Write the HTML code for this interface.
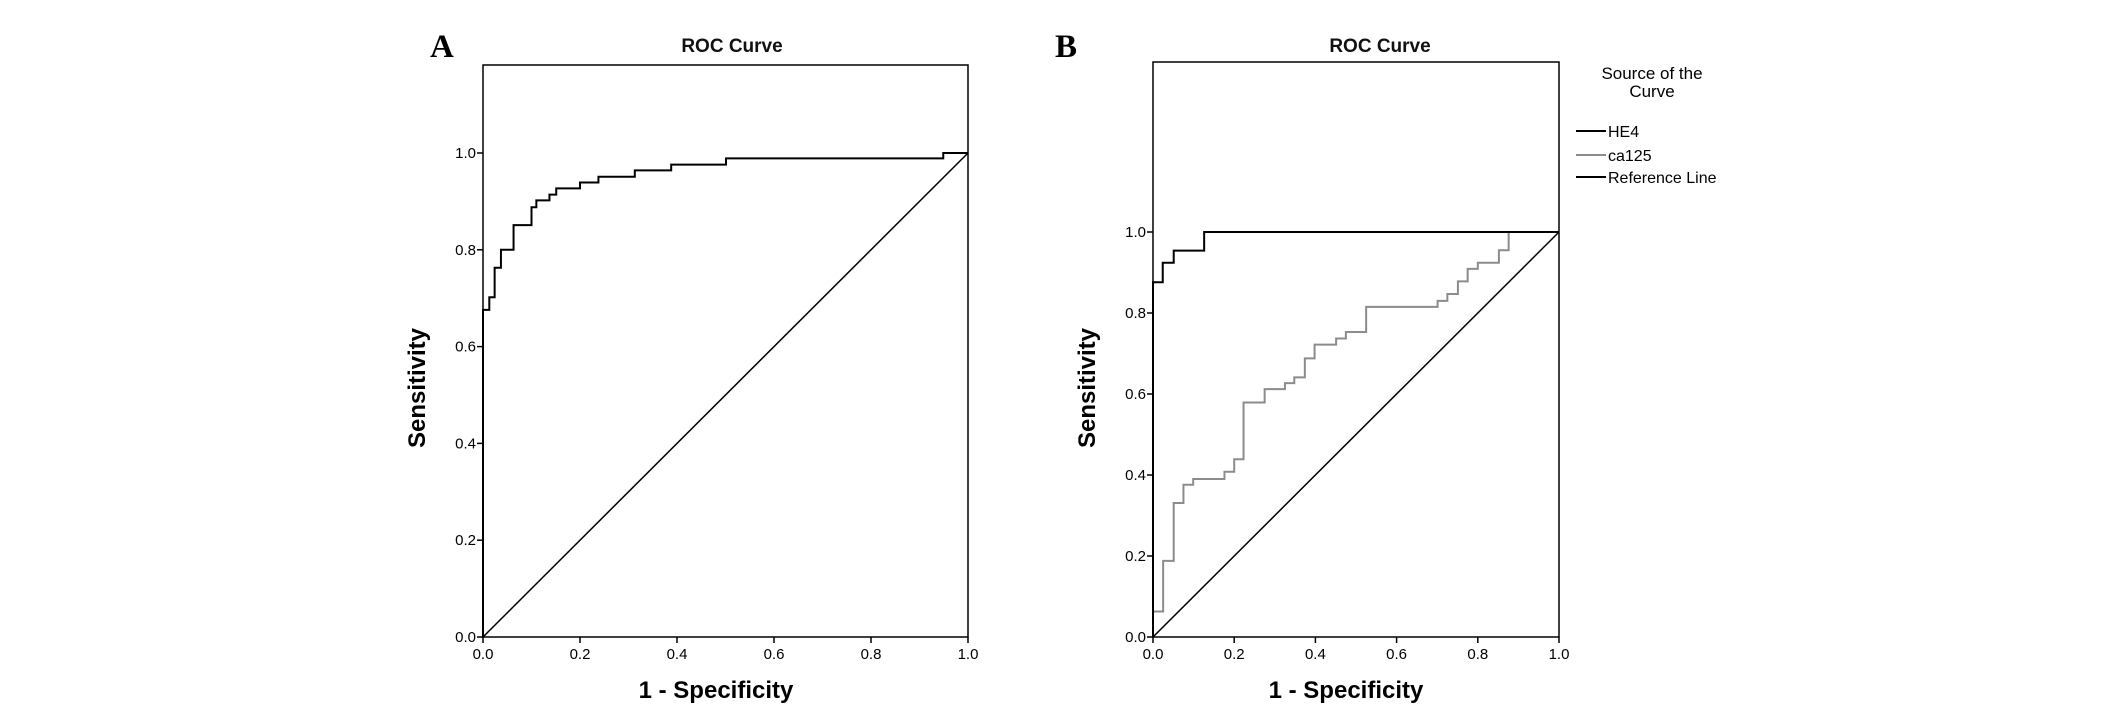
<!DOCTYPE html>
<html><head><meta charset="utf-8"><style>
html,body{margin:0;padding:0;background:#fff;}
svg{display:block;font-family:"Liberation Sans",Arial,sans-serif;}
</style></head><body>
<svg id="svg" width="2126" height="726" viewBox="0 0 2126 726" xmlns="http://www.w3.org/2000/svg">
<g id="gA"></g>
<g id="gB"></g>
</svg>
<script>
const ticks = [0, 0.2, 0.4, 0.6, 0.8, 1.0];
const tickLabels = ["0.0","0.2","0.4","0.6","0.8","1.0"];
const aFpr = [0,0.013,0.024,0.037,0.063,0.100,0.110,0.137,0.151,0.200,0.238,0.313,0.388,0.501,0.949];
const aTpr = [0.676,0.702,0.763,0.80,0.851,0.888,0.902,0.914,0.927,0.939,0.951,0.964,0.976,0.989,1.0];
const he4Fpr = [0,0.024,0.051,0.126];
const he4Tpr = [0.876,0.924,0.954,1.0];
const caFpr = [0,0.025,0.051,0.075,0.099,0.176,0.200,0.223,0.275,0.325,0.348,0.374,0.398,0.451,0.475,0.525,0.701,0.725,0.751,0.775,0.800,0.852,0.876];
const caTpr = [0.063,0.188,0.331,0.376,0.390,0.408,0.439,0.579,0.612,0.627,0.641,0.688,0.722,0.737,0.753,0.815,0.830,0.847,0.878,0.909,0.924,0.955,1.0];
const NS="http://www.w3.org/2000/svg";
function mk(parent,tag,attrs,txt){const e=document.createElementNS(NS,tag);for(const k in attrs)e.setAttribute(k,attrs[k]);if(txt!==undefined)e.textContent=txt;parent.appendChild(e);return e;}
function panel(g,P,letter,letterX){
  const sx=v=>P.x0+v*(P.x1-P.x0), sy=v=>P.y0-v*(P.y0-P.y1);
  let t=mk(g,'text',{x:letterX,y:57,'font-family':'"Liberation Serif",serif','font-weight':'bold','font-size':'33'},letter);
  
  
  t=mk(g,'text',{x:P.titleX,y:52,'text-anchor':'middle','font-size':'19','font-weight':'bold','fill':'#111'},'ROC Curve');
  
  
  const fr=mk(g,'rect',{x:P.x0,y:P.top,width:P.x1-P.x0,height:P.y0-P.top,fill:'none',stroke:'#000','stroke-width':'1.5'});
  
  
  ticks.forEach((v,i)=>{
    let l=mk(g,'line',{x1:P.x0-6,x2:P.x0,y1:sy(v),y2:sy(v),stroke:'#000','stroke-width':'1.5'});
    
    
    let tx=mk(g,'text',{x:P.x0-7,y:sy(v)+5,'text-anchor':'end','font-size':'15'},tickLabels[i]);
    
    
    l=mk(g,'line',{x1:sx(v),x2:sx(v),y1:P.y0,y2:P.y0+6,stroke:'#000','stroke-width':'1.5'});
    
    
    tx=mk(g,'text',{x:sx(v),y:P.y0+22,'text-anchor':'middle','font-size':'15'},tickLabels[i]);
    
    
  });
  t=mk(g,'text',{x:P.xTitleX,y:698,'text-anchor':'middle','font-size':'24','font-weight':'bold'},'1 - Specificity');
  
  
  const yc=388, xc=P.x0-66;
  t=mk(g,'text',{x:xc,y:yc,'text-anchor':'middle','font-size':'24','font-weight':'bold',transform:`rotate(-90 ${xc} ${yc})`,dy:'8'},'Sensitivity');
  
  
  const ref=mk(g,'line',{x1:sx(0),y1:sy(0),x2:sx(1),y2:sy(1),stroke:'#000','stroke-width':'1.5'});
  
  
  return {sx,sy};
}
function step(g,s,xs,ys,color,name){
  let d=`M${s.sx(0)},${s.sy(0)}`;
  for(let i=0;i<xs.length;i++){d+=` H${s.sx(xs[i])} V${s.sy(ys[i])}`;}
  d+=` H${s.sx(1)}`;
  const p=mk(g,'path',{d:d,fill:'none',stroke:color,'stroke-width':'2'});
  
  
}
const gA=document.getElementById('gA'), gB=document.getElementById('gB');
const PA={x0:483,x1:968,y0:637,y1:153,top:65,titleX:732,xTitleX:716};
const sA=panel(gA,PA,'A',430);
step(gA,sA,aFpr,aTpr,'#000','roc-curve');
const PB={x0:1153,x1:1559,y0:637,y1:232,top:62,titleX:1380,xTitleX:1346};
const sB=panel(gB,PB,'B',1055);
step(gB,sB,caFpr,caTpr,'#8c8c8c','ca125-curve');
step(gB,sB,he4Fpr,he4Tpr,'#000','he4-curve');
const lg=mk(gB,'g',{});


let t=mk(lg,'text',{x:1652,y:79,'text-anchor':'middle','font-size':'17'},'Source of the');


t=mk(lg,'text',{x:1652,y:97,'text-anchor':'middle','font-size':'17'},'Curve');


const legNames=['HE4','ca125','Reference Line'];
const legColors=['#000','#8c8c8c','#000'];
const legY=[131,155,177];
legNames.forEach((n,i)=>{
  const e=mk(lg,'g',{});
  
  
  mk(e,'line',{x1:1576,x2:1606,y1:legY[i],y2:legY[i],stroke:legColors[i],'stroke-width':'2'});
  mk(e,'text',{x:1608,y:legY[i]+6,'font-size':'16'},n);
});
</script>
</body></html>
